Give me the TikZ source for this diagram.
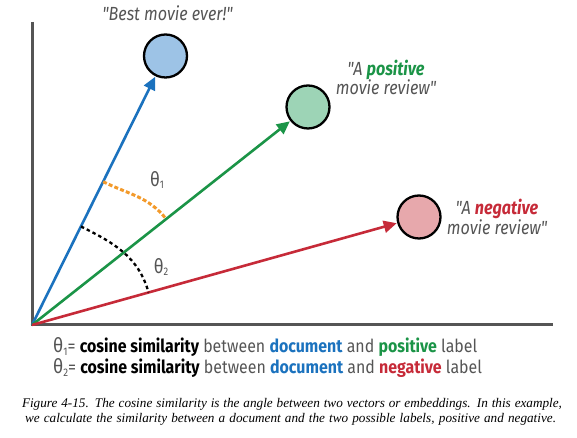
\documentclass[tikz,border=0pt]{standalone}
\usepackage{fontspec}
\usetikzlibrary{arrows.meta,calc}
\newfontfamily\labf{Fira Sans}[FakeStretch=0.85]
\newfontfamily\legf{Fira Sans}[FakeStretch=0.885]
\newfontfamily\capf{Liberation Serif}
\definecolor{tgray}{HTML}{555555}
\definecolor{axgray}{HTML}{555555}
\definecolor{vblue}{HTML}{1B72BE}
\definecolor{vgreen}{HTML}{1B9447}
\definecolor{vred}{HTML}{C62A38}
\definecolor{fblue}{HTML}{9DC3E6}
\definecolor{fgreen}{HTML}{9DD4B6}
\definecolor{fred}{HTML}{E7A8AC}
\definecolor{vorange}{HTML}{F39A2B}
\newcommand{\subn}[1]{\raisebox{-2.5pt}{\fontsize{11}{11}\selectfont #1}}
\newcommand{\bigth}{{\fontsize{20}{20}\selectfont θ}}
\tikzset{
  axis/.style={draw=axgray, line width=3pt},
  vec/.style={line width=2.6pt, -{Triangle[length=13pt,width=12pt]}, shorten >=0.5pt},
  doc/.style={circle, draw=black, line width=2.3pt, minimum size=43pt, inner sep=0pt},
  lab/.style={inner sep=0pt, font=\labf\itshape\fontsize{19}{22}\selectfont, text=tgray, align=center},
  thlab/.style={inner sep=0pt, font=\labf\fontsize{20}{22}\selectfont, text=tgray},
  legend/.style={inner sep=0pt, anchor=base west, font=\legf\fontsize{18}{21}\selectfont, text=tgray},
  caption/.style={inner sep=0pt, anchor=base, font=\capf\itshape\fontsize{13.2}{14}\selectfont, text=black},
  odash/.style={draw=vorange, line width=3pt, dash pattern=on 4pt off 2.2pt},
  kdash/.style={draw=black, line width=2.3pt, dash pattern=on 3.5pt off 3pt},
}
\begin{document}
\begin{tikzpicture}[x=1pt,y=1pt]
\useasboundingbox (0,0) rectangle (577,438);
\coordinate (o) at (32,113);
\coordinate (ytop) at (32,416);
\coordinate (xend) at (553,113);
\draw[axis] (ytop) -- (o) -- (xend);
\node[doc, fill=fblue] (bc) at (165.5,382) {};
\node[doc, fill=fgreen] (gc) at (308,331) {};
\node[doc, fill=fred] (rc) at (419,221) {};
\draw[vec, draw=vblue, fill=vblue] (o) -- (bc);
\draw[vec, draw=vgreen, fill=vgreen] (o) -- (gc);
\draw[vec, draw=vred, fill=vred] (o) -- (rc);
\coordinate (p1) at ($(o)!160pt!(bc)$);
\coordinate (p2) at ($(o)!171pt!(gc)$);
\coordinate (p3) at ($(o)!110pt!(bc)$);
\coordinate (p4) at ($(o)!121pt!(rc)$);
\draw[odash] (p1) to[out=-26.4, in=128.3] (p2);
\draw[kdash] (p3) to[out=-26.4, in=105.6] (p4);
\node[thlab] (t1) at (157,258) {θ\subn{1}};
\node[thlab] (t2) at (161,171) {θ\subn{2}};
\node[lab, anchor=base] (best) at (167.5,417) {"Best movie ever!"};
\node[lab, anchor=base] (pos1) at (386,362) {"A \textcolor{vgreen}{\bfseries positive}};
\node[lab, anchor=base] (pos2) at (386,343) {movie review"};
\node[lab, anchor=base] (neg1) at (497,223) {"A \textcolor{vred}{\bfseries negative}};
\node[lab, anchor=base] (neg2) at (497,203) {movie review"};
\node[legend] (l1) at (53,85) {\bigth\subn{1}= {\bfseries\color{black}cosine similarity} between {\bfseries\color{vblue}document} and {\bfseries\color{vgreen}positive} label};
\node[legend] (l2) at (53,64) {\bigth\subn{2}= {\bfseries\color{black}cosine similarity} between {\bfseries\color{vblue}document} and {\bfseries\color{vred}negative} label};
\node[caption] (c1) at (292,30) {\makebox[540pt][s]{Figure 4-15. The cosine similarity is the angle between two vectors or embeddings. In this example,}};
\node[caption] (c2) at (290.5,15.5) {\makebox[531pt][s]{we calculate the similarity between a document and the two possible labels, positive and negative.}};
\end{tikzpicture}
\end{document}
